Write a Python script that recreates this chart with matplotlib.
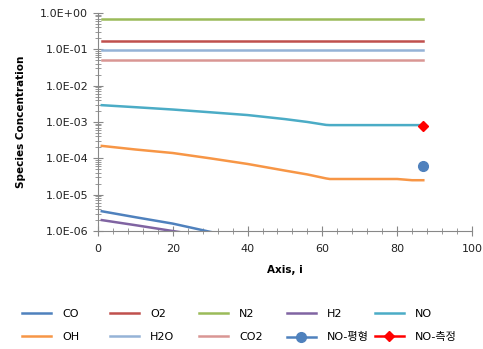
import matplotlib
matplotlib.use("Agg")
import matplotlib.pyplot as plt
from matplotlib.ticker import MultipleLocator, LogLocator, FuncFormatter

plt.rcParams["font.family"] = ["DejaVu Sans", "Noto Sans CJK KR"]

# Data
x_pts = [1, 10, 20, 30, 40, 50, 56, 61, 62, 70, 80, 82, 84, 87]
n2 = [0.68] * len(x_pts)
o2 = [0.17] * len(x_pts)
h2o = [0.098] * len(x_pts)
co2 = [0.051] * len(x_pts)
no = [2.9e-3, 2.55e-3, 2.2e-3, 1.85e-3, 1.55e-3, 1.2e-3, 1.0e-3, 8.3e-4, 8.2e-4,
      8.2e-4, 8.2e-4, 8.2e-4, 8.2e-4, 8.2e-4]
oh = [2.2e-4, 1.75e-4, 1.4e-4, 1.0e-4, 7.0e-5, 4.6e-5, 3.6e-5, 2.8e-5, 2.7e-5,
      2.7e-5, 2.7e-5, 2.6e-5, 2.5e-5, 2.5e-5]
co_x = [1, 10, 20, 30, 40]
co = [3.5e-6, 2.4e-6, 1.6e-6, 9.5e-7, 6e-7]
h2_x = [1, 10, 20, 30]
h2 = [2.0e-6, 1.45e-6, 1.0e-6, 7e-7]
no_eq_x, no_eq = [87], [6.1e-5]
no_meas_x, no_meas = [87], [7.7e-4]

fig = plt.figure(figsize=(4.83, 3.49), dpi=100)
ax = fig.add_axes([0.203, 0.338, 0.774, 0.625])

lw = 1.8
h = {}
h["CO"], = ax.plot(co_x, co, color="#4F81BD", lw=lw, label="CO")
h["O2"], = ax.plot(x_pts, o2, color="#C0504D", lw=lw, label="O2")
h["N2"], = ax.plot(x_pts, n2, color="#9BBB59", lw=lw, label="N2")
h["H2"], = ax.plot(h2_x, h2, color="#8064A2", lw=lw, label="H2")
h["NO"], = ax.plot(x_pts, no, color="#4BACC6", lw=lw, label="NO")
h["OH"], = ax.plot(x_pts, oh, color="#F79646", lw=lw, label="OH")
h["H2O"], = ax.plot(x_pts, h2o, color="#95B3D7", lw=lw, label="H2O")
h["CO2"], = ax.plot(x_pts, co2, color="#D99694", lw=lw, label="CO2")
h["eq"], = ax.plot(no_eq_x, no_eq, color="#4F81BD", lw=lw, marker="o", ms=7,
                   label="NO-평형")
h["meas"], = ax.plot(no_meas_x, no_meas, color="#FF0000", lw=lw, marker="D",
                     ms=5, label="NO-측정")

ax.set_yscale("log")
ax.set_ylim(1e-6, 1.0)
ax.set_xlim(0, 100)
ax.xaxis.set_major_locator(MultipleLocator(20))
ax.xaxis.set_minor_locator(MultipleLocator(4))
ax.yaxis.set_major_locator(LogLocator(base=10, numticks=10))
ax.yaxis.set_minor_locator(LogLocator(base=10, subs=range(2, 10), numticks=20))
ax.yaxis.set_major_formatter(FuncFormatter(lambda v, p: f"{v:.1E}"))

for s in ["top", "right"]:
    ax.spines[s].set_visible(False)
for s in ["left", "bottom"]:
    ax.spines[s].set_color("#888888")

ax.tick_params(which="major", direction="inout", length=7, color="#888888",
               labelsize=8, labelcolor="#222222")
ax.tick_params(which="minor", direction="inout", length=4, color="#888888")
ax.tick_params(axis="x", pad=6)

ax.set_xlabel("Axis, i", fontsize=7.5, fontweight="bold", labelpad=8)
ax.set_ylabel("Species Concentration", fontsize=7.5, fontweight="bold",
              labelpad=10)

# Excel-style legend: fixed column widths, one small legend per column
columns = [("CO", "OH"), ("O2", "H2O"), ("N2", "CO2"), ("H2", "eq"),
           ("NO", "meas")]
col_x = [22, 110, 199, 287, 375]
for (a, b), cx in zip(columns, col_x):
    fig.legend([h[a], h[b]], [h[a].get_label(), h[b].get_label()],
               loc="upper left", bbox_to_anchor=(cx / 483, 1 - 309 / 349),
               frameon=False, fontsize=8, handlelength=2.6, handletextpad=1.0,
               labelspacing=1.2, borderpad=0, borderaxespad=0)

fig.savefig("out.png", dpi=100)
